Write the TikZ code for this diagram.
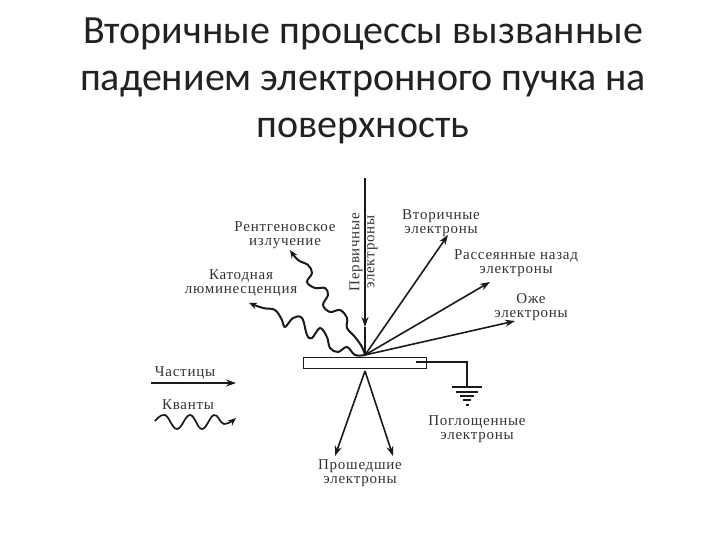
\documentclass[tikz,border=0pt]{standalone}
\usepackage{fontspec}
\setmainfont{Carlito}
\newfontfamily\lblfont[LetterSpace=5]{Liberation Serif}
\usetikzlibrary{arrows.meta}
\definecolor{titlecol}{HTML}{222222}
\definecolor{inkcol}{HTML}{1A1A1A}
\definecolor{lblcol}{HTML}{333333}
\tikzset{
 titletext/.style={font=\fontsize{40}{47}\selectfont,text=titlecol,align=center,inner sep=0},
 lbl/.style={font=\lblfont\fontsize{15}{14}\selectfont,text=lblcol,align=center,inner sep=0},
 ray/.style={draw=inkcol,line width=1.6pt,-{Stealth[length=10pt,width=7pt]}},
 wave/.style={draw=inkcol,line width=2pt,-{Stealth[length=8pt,width=6.5pt]}},
 wire/.style={draw=inkcol,line width=1.5pt},
 gbar/.style={draw=inkcol,line width=1.6pt}
}
\begin{document}
\begin{tikzpicture}[x=1pt,y=-1pt]
\useasboundingbox (0,0) rectangle (720,540);
\fill[white] (0,0) rectangle (720,540);
\node[titletext] (title) at (363,81) {Вторичные процессы вызванные\\падением электронного пучка на\\поверхность};
% sample
\node[draw=inkcol,line width=1pt,minimum width=123pt,minimum height=11pt,inner sep=0,fill=white] (plate) at (364.5,362.5) {};
\coordinate (hub) at (365,355);
\coordinate (ptop) at (365,178);
\coordinate (pmid) at (365,327);
\coordinate (sec) at (448,235);
\coordinate (back) at (490,282);
\coordinate (auger) at (515,321);
\coordinate (xr) at (290,250);
\coordinate (cl) at (249,303);
\coordinate (below) at (365,371);
\coordinate (trl) at (335,456);
\coordinate (trr) at (393,456);
\coordinate (wa) at (416,362);
\coordinate (wb) at (467,362);
\coordinate (wc) at (467,386);
% rays
\draw[ray] (ptop) -- (pmid);
\draw[wire] (pmid) -- (hub);
\draw[ray] (hub) -- (sec);
\draw[ray] (hub) -- (back);
\draw[ray] (hub) -- (auger);
\draw[ray] (below) -- (trl);
\draw[ray] (below) -- (trr);
% waves
\draw[wave] plot[smooth,tension=0.6] coordinates {(hub) (362,347) (355,337) (347,328) (347,318) (340,310) (330,312) (323,305) (328,295) (325,288) (315,288) (307,282) (312,273) (308,265) (298,260) (xr)};
\draw[wave] plot[smooth,tension=0.6] coordinates {(hub) (355,355) (347,347) (338,352) (330,348) (327,337) (320,328) (312,338) (307,335) (302,318) (293,318) (285,327) (282,320) (275,310) (263,308) (cl)};
% ground
\draw[wire] (wa) -- (wb) -- (wc);
\coordinate (g1) at (467,387);
\coordinate (g2) at (467,392);
\coordinate (g3) at (467,396);
\coordinate (g4) at (467,400);
\coordinate (g5) at (467,405);
\draw[gbar] ([xshift=-15pt]g1) -- ([xshift=15pt]g1);
\draw[gbar] ([xshift=-11pt]g2) -- ([xshift=11pt]g2);
\draw[gbar] ([xshift=-7pt]g3) -- ([xshift=7pt]g3);
\draw[gbar] ([xshift=-4pt]g4) -- ([xshift=4pt]g4);
\draw[gbar] ([xshift=-1.5pt]g5) -- ([xshift=1.5pt]g5);
% legend
\coordinate (la) at (151,383);
\coordinate (lb) at (236,383);
\draw[ray] (la) -- (lb);
\coordinate (qa) at (155,421);
\coordinate (qb) at (236,418);
\draw[wave,line width=1.7pt] plot[smooth,tension=0.7] coordinates {(qa) (165,415) (177,429) (190,415) (202,429) (214,415) (224,424) (qb)};
% labels
\node[lbl] (l1) at (285,235.5) {Рентгеновское\\излучение};
\node[lbl] (l2) at (241,283.5) {Катодная\\люминесценция};
\node[lbl,rotate=90,font=\lblfont\fontsize{15}{15}\selectfont] (l3) at (363.5,252) {Первичные\\электроны};
\node[lbl] (l4) at (441,223) {Вторичные\\электроны};
\node[lbl] (l5) at (516,263) {Рассеянные назад\\электроны};
\node[lbl] (l6) at (531,307) {Оже\\электроны};
\node[lbl] (l7) at (185,373) {Частицы};
\node[lbl] (l8) at (188,405) {Кванты};
\node[lbl] (l9) at (477,429.5) {Поглощенные\\электроны};
\node[lbl] (l10) at (360,473) {Прошедшие\\электроны};
\end{tikzpicture}
\end{document}
